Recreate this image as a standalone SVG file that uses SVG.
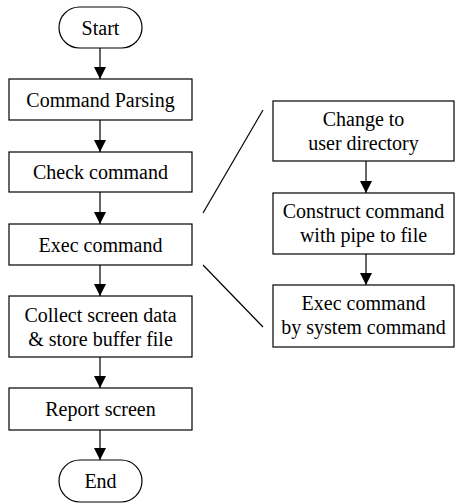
<svg xmlns="http://www.w3.org/2000/svg" width="455" height="504" viewBox="0 0 455 504">
<defs>
<marker id="ah" viewBox="0 0 12 12" refX="12" refY="6" markerWidth="12" markerHeight="12" markerUnits="userSpaceOnUse" orient="auto">
<path d="M0,0 L12,6 L0,12 z" fill="#000"/>
</marker>
</defs>
<rect width="455" height="504" fill="#fff"/>
<g id="connectors" stroke="#000" stroke-width="1.2" fill="none">
<line x1="100" y1="48" x2="100" y2="79" marker-end="url(#ah)"/>
<line x1="100" y1="120" x2="100" y2="152" marker-end="url(#ah)"/>
<line x1="100" y1="192" x2="100" y2="224" marker-end="url(#ah)"/>
<line x1="100" y1="265" x2="100" y2="296" marker-end="url(#ah)"/>
<line x1="100" y1="357" x2="100" y2="388" marker-end="url(#ah)"/>
<line x1="100" y1="430" x2="100" y2="460" marker-end="url(#ah)"/>
<line x1="366" y1="161" x2="366" y2="193" marker-end="url(#ah)"/>
<line x1="366" y1="254" x2="366" y2="285" marker-end="url(#ah)"/>
<line x1="203" y1="213" x2="263" y2="110"/>
<line x1="203" y1="265" x2="263" y2="327"/>
</g>
<g id="nodes">
<g id="start">
<rect x="59" y="7" width="83" height="41" rx="20.5" fill="#fff" stroke="#000" stroke-width="1.2"/>
<text x="100.5" y="34.5" font-family="Liberation Serif" font-size="20" text-anchor="middle">Start</text>
</g>
<g id="parse">
<rect x="9" y="79" width="183" height="41" fill="#fff" stroke="#000" stroke-width="1.2"/>
<text x="100.5" y="106.5" font-family="Liberation Serif" font-size="20" text-anchor="middle">Command Parsing</text>
</g>
<g id="check">
<rect x="9" y="152" width="183" height="40" fill="#fff" stroke="#000" stroke-width="1.2"/>
<text x="100.5" y="179" font-family="Liberation Serif" font-size="20" text-anchor="middle">Check command</text>
</g>
<g id="exec">
<rect x="9" y="224" width="183" height="41" fill="#fff" stroke="#000" stroke-width="1.2"/>
<text x="100.5" y="251.5" font-family="Liberation Serif" font-size="20" text-anchor="middle">Exec command</text>
</g>
<g id="collect">
<rect x="9" y="296" width="183" height="61" fill="#fff" stroke="#000" stroke-width="1.2"/>
<text x="100.5" y="322" font-family="Liberation Serif" font-size="20" text-anchor="middle">Collect screen data</text>
<text x="100.5" y="346" font-family="Liberation Serif" font-size="20" text-anchor="middle">&amp; store buffer file</text>
</g>
<g id="report">
<rect x="9" y="388" width="183" height="42" fill="#fff" stroke="#000" stroke-width="1.2"/>
<text x="100.5" y="416" font-family="Liberation Serif" font-size="20" text-anchor="middle">Report screen</text>
</g>
<g id="end">
<rect x="59" y="460" width="83" height="42" rx="21" fill="#fff" stroke="#000" stroke-width="1.2"/>
<text x="100.5" y="488" font-family="Liberation Serif" font-size="20" text-anchor="middle">End</text>
</g>
<g id="chdir">
<rect x="273" y="101" width="181" height="60" fill="#fff" stroke="#000" stroke-width="1.2"/>
<text x="363.5" y="126" font-family="Liberation Serif" font-size="20" text-anchor="middle">Change to</text>
<text x="363.5" y="150" font-family="Liberation Serif" font-size="20" text-anchor="middle">user directory</text>
</g>
<g id="construct">
<rect x="273" y="193" width="181" height="61" fill="#fff" stroke="#000" stroke-width="1.2"/>
<text x="363.5" y="218" font-family="Liberation Serif" font-size="20" text-anchor="middle">Construct command</text>
<text x="363.5" y="242" font-family="Liberation Serif" font-size="20" text-anchor="middle">with pipe to file</text>
</g>
<g id="sysexec">
<rect x="273" y="285" width="181" height="62" fill="#fff" stroke="#000" stroke-width="1.2"/>
<text x="363.5" y="310" font-family="Liberation Serif" font-size="20" text-anchor="middle">Exec command</text>
<text x="363.5" y="334" font-family="Liberation Serif" font-size="20" text-anchor="middle">by system command</text>
</g>
</g>
</svg>
